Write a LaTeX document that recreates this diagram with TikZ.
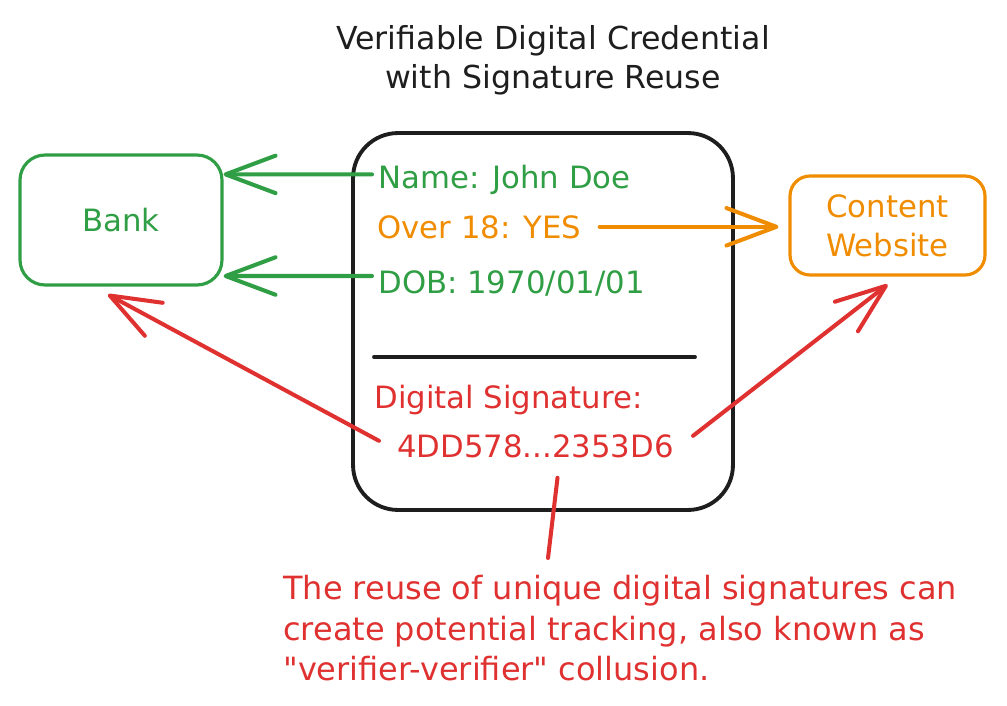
\documentclass[tikz,border=0pt]{standalone}
\usepackage{fontspec}
\setmainfont{DejaVu Sans}[Ligatures=TeXOff]
\usetikzlibrary{arrows.meta}
\definecolor{inkblack}{HTML}{1E1E1E}
\definecolor{inkgreen}{HTML}{2F9E44}
\definecolor{inkorange}{HTML}{F08C00}
\definecolor{inkred}{HTML}{E03131}

\begin{document}
\begin{tikzpicture}[x=0.02cm, y=-0.02cm,
  every node/.style={font=\fontsize{17.5}{22}\selectfont},
  box/.style={draw, rounded corners=0.5cm, line width=1.8pt, align=center},
  field/.style={anchor=base west, inner sep=0pt},
  barb/.style={line width=2.3pt, line cap=round,
    -{Straight Barb[length=1cm, width=0.75cm, line cap=round, line join=round]}},
  ]
  \useasboundingbox (0,0) rectangle (1007,706);

  % Title
  \node[align=center, inkblack, font=\fontsize{18}{22}\selectfont] (title) at (553,60) {Verifiable Digital Credential\\with Signature Reuse};

  % Parties
  \node[box, inkgreen, minimum width=4.04cm, minimum height=2.6cm] (bank) at (121,220) {Bank};
  \node[box, inkorange, minimum width=3.9cm, minimum height=1.98cm, rounded corners=0.4cm] (web) at (887.5,225.5) {Content\\Website};

  % Credential card
  \node[box, inkblack, minimum width=7.6cm, minimum height=7.54cm, rounded corners=0.9cm, line width=2.2pt] (cred) at (543,321.5) {};
  \node[field, inkgreen] (name) at (378,188) {Name: John Doe};
  \node[field, inkorange] (over) at (377,238) {Over 18: YES};
  \node[field, inkgreen] (dob) at (378,293) {DOB: 1970/01/01};
  \coordinate (ruleL) at (374,357);
  \coordinate (ruleR) at (695,357);
  \draw[line width=2.2pt, inkblack, line cap=round] (ruleL) -- (ruleR);
  \node[field, inkred] (siglabel) at (374,408) {Digital Signature:};
  \node[inkred, inner sep=0pt, anchor=base] (sig) at (535.5,457) {4DD578...2353D6};

  % Note
  \node[inkred, align=left, anchor=north west, inner sep=0pt, font=\fontsize{18.2}{23}\selectfont] (note) at (283,575)
    {The reuse of unique digital signatures can\\create potential tracking, also known as\\"verifier-verifier" collusion.};
  \coordinate (link) at (548,558);

  % Connections
  \draw[barb, inkgreen] ([shift={(-6,-5)}]name.west) -- ([yshift=0.1cm]name.west -| bank.east);
  \draw[barb, inkgreen] ([shift={(-6,-7)}]dob.west) -- ([yshift=0.14cm]dob.west -| bank.east);
  \draw[barb, inkorange] ([xshift=0.36cm]over.east) -- ([xshift=-0.2cm]over.east -| web.west);
  \draw[barb, inkred] ([shift={(-18,-5)}]sig.west) -- ([shift={(-13,8)}]bank.south);
  \draw[barb, inkred] ([shift={(19,-10)}]sig.east) -- ([yshift=-0.16cm]web.south);
  \draw[line width=2.3pt, inkred, line cap=round] ([shift={(22,20)}]sig.south) -- (link);
\end{tikzpicture}
\end{document}
